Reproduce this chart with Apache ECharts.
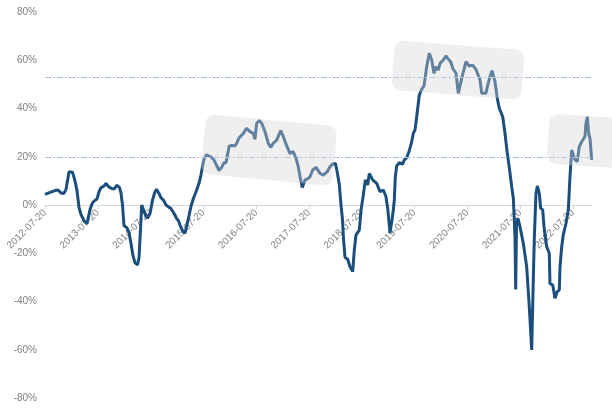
<!DOCTYPE html>
<html>
<head>
<meta charset="utf-8">
<script src="https://cdn.jsdelivr.net/npm/echarts@6/dist/echarts.min.js"></script>
<style>html,body{margin:0;padding:0;background:#fff}#c{width:612px;height:410px}</style>
</head>
<body>
<div id="c"></div>
<script>
// years elapsed since 2012-07-20
const yearsSinceStart = [
0,0.095,0.189,0.246,0.303,0.360,0.398,0.426,0.455,0.521,0.568,0.606,0.644,0.682,0.739,0.795,0.824,0.852,0.890,0.928,
0.985,1.023,1.061,1.117,1.155,1.203,1.250,1.307,1.364,1.411,1.439,1.468,1.496,1.553,1.591,1.629,1.667,1.705,1.752,1.780,
1.809,1.831,1.866,1.913,1.941,1.989,2.036,2.083,2.112,2.159,2.197,2.244,2.292,2.339,2.377,2.424,2.462,2.490,2.528,2.557,
2.614,2.652,2.695,2.727,2.765,2.812,2.869,2.917,2.955,2.983,3.011,3.059,3.134,3.191,3.248,3.295,3.343,3.390,3.428,3.456,
3.490,3.542,3.598,3.631,3.680,3.750,3.816,3.883,3.945,3.977,4.009,4.059,4.104,4.167,4.229,4.275,4.324,4.388,4.464,4.513,
4.578,4.640,4.703,4.754,4.797,4.830,4.873,4.924,4.972,5.019,5.070,5.133,5.208,5.271,5.346,5.398,5.454,5.502,5.540,5.574,
5.606,5.634,5.653,5.682,5.733,5.777,5.828,5.858,5.890,5.953,5.985,6.029,6.067,6.112,6.142,6.206,6.282,6.345,6.408,6.458,
6.491,6.534,6.572,6.597,6.616,6.635,6.661,6.710,6.775,6.805,6.847,6.900,6.945,6.975,7.008,7.040,7.089,7.134,7.178,7.229,
7.278,7.324,7.367,7.405,7.449,7.481,7.544,7.595,7.638,7.684,7.722,7.784,7.828,7.892,7.973,8.036,8.100,8.163,8.239,8.271,
8.352,8.377,8.428,8.466,8.523,8.566,8.604,8.669,8.712,8.756,8.794,8.839,8.869,8.886,8.902,8.915,8.930,8.958,8.996,9.059,
9.123,9.172,9.218,9.248,9.267,9.299,9.324,9.362,9.388,9.426,9.451,9.502,9.551,9.564,9.616,9.659,9.703,9.741,9.754,9.786,
9.816,9.867,9.911,9.943,9.975,10.006,10.038,10.081,10.119,10.165,10.195,10.227,10.246,10.271,10.297,10.322,10.354
];
// series values, %
const values = [
4.4,5.2,6.0,6.2,5.0,4.8,6.5,10,13.8,13.6,10,6,-1,-4,-6.5,-7.8,-7,-2,0.5,1.6,
2.5,5.5,7.2,7.8,9,7.6,7.0,6.6,8.2,7.2,5,0,-8.5,-9.5,-11.5,-16,-21,-24,-24.8,-22,
-10,0,-2,-4.5,-5.5,-3.5,2,5.5,6.5,4.8,3,2,0,-0.8,-1.3,-2.8,-4.2,-5.5,-6.5,-8.3,
-11,-11.7,-7.6,-4.5,-0.5,2.8,6.0,9,12.5,16,19,20.8,20,19,16.5,14.3,15.5,17.5,17.5,20.7,
24.5,24.7,24.5,25.6,28,29.5,31.8,30.4,29.7,27.2,33.9,35,33.9,30.4,25.6,23.9,25.6,26.9,30.8,28.4,
24.5,21.4,22.1,19.3,15.9,11.7,7.3,10.4,10.8,11.7,14.5,15.6,13.1,12.4,13.8,15.9,17,17.2,13,8.5,
0,-6,-13.8,-21.7,-22.5,-25.6,-27.6,-18.7,-12.4,-10.4,-2.1,4.1,10.4,8.3,13.1,10.4,9,5.5,6.2,3.4,
-1.4,-11.5,-6.2,-2.1,2.1,11.7,16.2,17.5,17,18.7,19.5,22.5,26.2,29.7,31.1,36.6,45.6,48,49.3,57.3,
62.9,60.1,54.6,57.3,55.9,58.7,60.1,61.8,60.4,59.4,56.7,54.6,46.3,52.5,59.4,57.6,58,56.2,51.8,46.3,
46.3,49,53.2,55.7,51.1,44.2,40.1,36.6,29.7,21.4,15.5,7.6,3,-5,-14,-35,-8,-5.5,-9,-15.9,
-25.6,-42.1,-60.1,-31,-14,4.8,7.9,4.8,-1.4,-2,-9,-17.3,-20,-32.5,-33.2,-38.7,-35.9,-35.2,-25.6,-17.3,
-12.4,-7.6,-2.1,11.7,22.8,23.5,18.7,18,24.2,26.2,26.9,28.4,33.9,36.6,29.7,27.6,18.7
];
const startYear = 2012;
const tickLabelSuffix = '-07-20';
const yearTicks = [0,1,2,3,4,5,6,7,8,9,10];
const refLines = [20, 52.9];

const data = yearsSinceStart.map((t, i) => [t, values[i]]);
const chart = echarts.init(document.getElementById('c'), null, {renderer: 'canvas'});
const labelColor = '#808080';
const boxFill = 'rgba(213,213,213,0.38)';
chart.setOption({
  animation: false,
  grid: {left: 45, right: 20, top: 12, bottom: 12, containLabel: false, outerBoundsMode: 'none'},
  xAxis: {
    type: 'value', min: 0, max: 10.36, position: 'bottom', offset: -193,
    axisLine: {show: true, onZero: false, lineStyle: {color: '#d9d9d9', width: 1}},
    axisTick: {show: true, length: 4, customValues: yearTicks, lineStyle: {color: '#d9d9d9'}},
    axisLabel: {
      customValues: yearTicks, rotate: 45, margin: 6, color: labelColor,
      fontFamily: 'Liberation Sans, Arial, sans-serif', fontSize: 10,
      formatter: v => (startYear + Math.round(v)) + tickLabelSuffix
    },
    splitLine: {show: false}
  },
  yAxis: {
    type: 'value', min: -80, max: 80, interval: 20,
    axisLine: {show: false}, axisTick: {show: false}, splitLine: {show: false},
    axisLabel: {formatter: '{value}%', color: labelColor, margin: 8,
      fontFamily: 'Liberation Sans, Arial, sans-serif', fontSize: 10}
  },
  series: [{
    type: 'line', data: data, showSymbol: false, symbol: 'none',
    lineStyle: {color: '#1a4e7c', width: 3}, z: 3,
    markLine: {
      silent: true, symbol: 'none', label: {show: false},
      lineStyle: {color: '#a8bfe8', opacity: 1, type: [6, 2, 2, 2], width: 1},
      data: refLines.map(v => ({yAxis: v}))
    }
  }],
  graphic: [
    {type: 'rect', x: 269, y: 150, rotation: -0.096, z: 100,
     shape: {x: -66, y: -30, width: 132, height: 60, r: 9}, style: {fill: boxFill}},
    {type: 'rect', x: 458, y: 70, rotation: -0.078, z: 100,
     shape: {x: -65, y: -25, width: 130, height: 50, r: 9}, style: {fill: boxFill}},
    {type: 'rect', x: 585, y: 141, rotation: -0.06, z: 100,
     shape: {x: -37, y: -25, width: 80, height: 50, r: 9}, style: {fill: boxFill}}
  ]
});
</script>
</body>
</html>
